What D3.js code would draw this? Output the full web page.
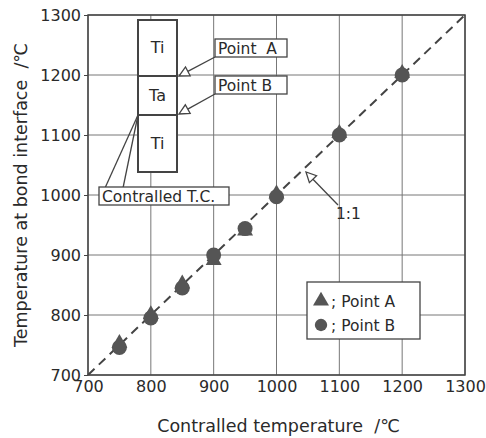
<!DOCTYPE html>
<html>
<head>
<meta charset="utf-8">
<script src="https://cdnjs.cloudflare.com/ajax/libs/d3/7.8.5/d3.min.js"></script>
<style>
  body { margin: 0; background: #fff; }
  svg text { font-family: "DejaVu Sans", "Noto Sans", sans-serif; fill: #2a2a2a; white-space: pre; }
</style>
</head>
<body>
<div id="chart"></div>
<script>
// controlled temperatures (x)
var controlled = [750, 800, 850, 900, 950, 1000, 1100, 1200];
// measured at bond interface
var pointA = [753, 801, 852, 891, 940, 1002, 1103, 1203];
var pointB = [746, 795, 845, 900, 944, 997, 1100, 1200];
var tickValues = [700, 800, 900, 1000, 1100, 1200, 1300];
var layers = ["Ti", "Ta", "Ti"];
var legendLabels = ["; Point A", "; Point B"];

var width = 486, height = 438;
var margin = {left: 88, right: 21, top: 15, bottom: 63};

var svg = d3.select("#chart").append("svg")
  .attr("width", width)
  .attr("height", height);

var x = d3.scaleLinear().domain([700, 1300]).range([margin.left, width - margin.right]);
var y = d3.scaleLinear().domain([700, 1300]).range([height - margin.bottom, margin.top]);

var ink = "#444";

// grid
svg.append("g").selectAll("line.gx")
  .data(tickValues).enter().append("line")
  .attr("x1", d => x(d)).attr("x2", d => x(d))
  .attr("y1", y(700)).attr("y2", y(1300))
  .attr("stroke", "#777").attr("stroke-width", 1);
svg.append("g").selectAll("line.gy")
  .data(tickValues).enter().append("line")
  .attr("y1", d => y(d)).attr("y2", d => y(d))
  .attr("x1", x(700)).attr("x2", x(1300))
  .attr("stroke", "#777").attr("stroke-width", 1);

// frame
svg.append("rect")
  .attr("x", x(700)).attr("y", y(1300))
  .attr("width", x(1300) - x(700)).attr("height", y(700) - y(1300))
  .attr("fill", "none").attr("stroke", ink).attr("stroke-width", 1.5);

// axes
var fmt = d3.format("d");
var xAxis = svg.append("g")
  .attr("transform", "translate(0," + y(700) + ")")
  .call(d3.axisBottom(x).tickValues(tickValues).tickFormat(fmt).tickSize(0).tickPadding(6));
var yAxis = svg.append("g")
  .attr("transform", "translate(" + x(700) + ",0)")
  .call(d3.axisLeft(y).tickValues(tickValues).tickFormat(fmt).tickSize(4).tickPadding(3));
[xAxis, yAxis].forEach(function(g) {
  g.attr("font-family", null).attr("font-size", null);
  g.select(".domain").remove();
  g.selectAll("text").style("font-size", "16px").attr("fill", "#2a2a2a");
  g.selectAll(".tick line").attr("stroke", ink);
});

// axis titles
svg.append("text")
  .attr("x", (x(700) + x(1300)) / 2 + 2).attr("y", 432)
  .attr("text-anchor", "middle").style("font-size", "17.5px")
  .text("Contralled temperature  /℃");
svg.append("text")
  .attr("transform", "translate(27," + ((y(700) + y(1300)) / 2) + ") rotate(-90)")
  .attr("text-anchor", "middle").style("font-size", "17.5px")
  .text("Temperature at bond interface  /℃");

// 1:1 line
svg.append("line")
  .attr("x1", x(700)).attr("y1", y(700))
  .attr("x2", x(1300)).attr("y2", y(1300))
  .attr("stroke", ink).attr("stroke-width", 2)
  .attr("stroke-dasharray", "9,6");

// markers
var mark = "#555";
var tri = d3.symbol().type(d3.symbolTriangle).size(110);
svg.append("g").selectAll("path")
  .data(controlled).enter().append("path")
  .attr("d", tri)
  .attr("transform", (d, i) => "translate(" + x(d) + "," + y(pointA[i]) + ")")
  .attr("fill", mark);
svg.append("g").selectAll("circle")
  .data(controlled).enter().append("circle")
  .attr("cx", d => x(d)).attr("cy", (d, i) => y(pointB[i]))
  .attr("r", 7.5).attr("fill", mark);

// open arrow helper
function openArrow(x1, y1, x2, y2) {
  var a = Math.atan2(y2 - y1, x2 - x1), L = 10, w = 5;
  var bx = x2 - L * Math.cos(a), by = y2 - L * Math.sin(a);
  svg.append("line").attr("x1", x1).attr("y1", y1).attr("x2", bx).attr("y2", by)
    .attr("stroke", ink).attr("stroke-width", 1.3);
  svg.append("path")
    .attr("d", "M" + x2 + "," + y2 +
      "L" + (bx + w * Math.sin(a)) + "," + (by - w * Math.cos(a)) +
      "L" + (bx - w * Math.sin(a)) + "," + (by + w * Math.cos(a)) + "Z")
    .attr("fill", "#fff").attr("stroke", ink).attr("stroke-width", 1.3);
}

// inset: Ti / Ta / Ti specimen
var inset = {x: 138, w: 39, ys: [20, 76, 115, 172]};
layers.forEach(function(t, i) {
  svg.append("rect")
    .attr("x", inset.x).attr("y", inset.ys[i])
    .attr("width", inset.w).attr("height", inset.ys[i + 1] - inset.ys[i])
    .attr("fill", "#fff").attr("stroke", ink).attr("stroke-width", 2);
  svg.append("text")
    .attr("x", inset.x + inset.w / 2).attr("y", (inset.ys[i] + inset.ys[i + 1]) / 2 + 5)
    .attr("text-anchor", "middle").style("font-size", "16px").text(t);
});

function labelBox(bx, by, bw, bh, txt) {
  svg.append("rect").attr("x", bx).attr("y", by).attr("width", bw).attr("height", bh)
    .attr("fill", "#fff").attr("stroke", ink).attr("stroke-width", 1.3);
  svg.append("text").attr("x", bx + 3).attr("y", by + bh - 3.5)
    .style("font-size", "15.5px").text(txt);
}

openArrow(215, 57, 179, 76);
openArrow(215, 94, 179, 114);
labelBox(215, 39, 72, 18, "Point  A");
labelBox(215, 76, 72, 18, "Point B");

// thermocouple leads
svg.append("line").attr("x1", 138).attr("y1", 115).attr("x2", 105).attr("y2", 188)
  .attr("stroke", ink).attr("stroke-width", 1.3);
svg.append("line").attr("x1", 138).attr("y1", 115).attr("x2", 123).attr("y2", 188)
  .attr("stroke", ink).attr("stroke-width", 1.3);
labelBox(99, 187, 130, 18, "Contralled T.C.");

// 1:1 label
openArrow(338, 205, 306, 172);
svg.append("text").attr("x", 336).attr("y", 219).style("font-size", "15.5px").text("1:1");

// legend
svg.append("rect").attr("x", 307).attr("y", 282).attr("width", 113).attr("height", 57)
  .attr("fill", "#fff").attr("stroke", ink).attr("stroke-width", 1.3);
var leg = svg.append("g").selectAll("g")
  .data(legendLabels).enter().append("g")
  .attr("transform", (d, i) => "translate(321," + (301 + i * 24) + ")");
leg.append("path")
  .attr("d", (d, i) => i === 0 ? tri() : d3.symbol().type(d3.symbolCircle).size(120)())
  .attr("fill", mark);
leg.append("text").attr("x", 10).attr("y", 5.5).style("font-size", "15.5px").text(d => d);
</script>
</body>
</html>
